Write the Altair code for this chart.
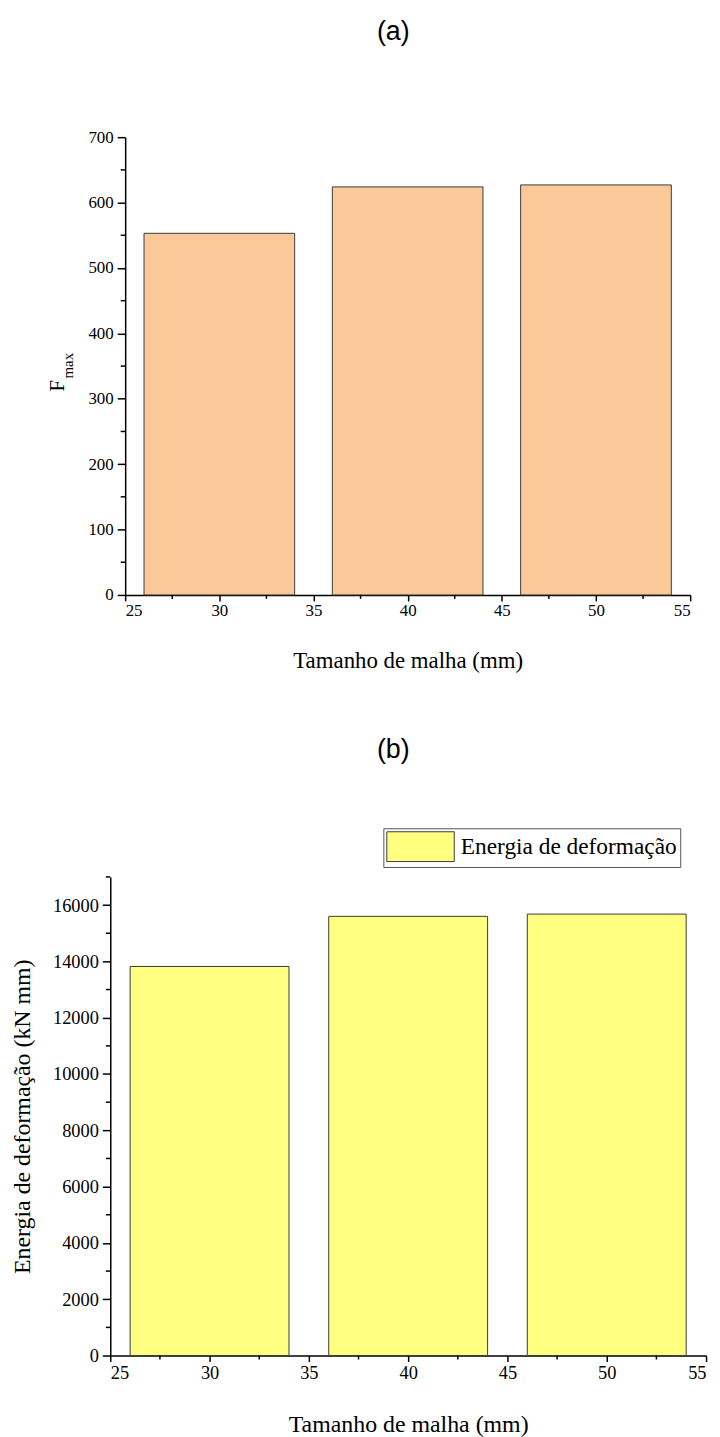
import altair as alt
import pandas as pd

# ---------------- data ----------------
mesh_mm = [30, 40, 50]
fmax_values = [553, 624, 627]
energy_values = [13820, 15600, 15680]
bar_width_mm = [8, 8, 8]
series_name = ["Energia de deformação", "Energia de deformação", "Energia de deformação"]

x_major = [25, 30, 35, 40, 45, 50, 55]
x_minor = [27.5, 32.5, 37.5, 42.5, 47.5, 52.5]
fmax_major = [0, 100, 200, 300, 400, 500, 600, 700]
fmax_minor = [50, 150, 250, 350, 450, 550, 650]
energy_major = [0, 2000, 4000, 6000, 8000, 10000, 12000, 14000, 16000]
energy_minor = [1000, 3000, 5000, 7000, 9000, 11000, 13000, 15000, 17000]

x_title = "Tamanho de malha (mm)"
y_title_b = "Energia de deformação (kN mm)"
title_a = "(a)"
title_b = "(b)"
fmax_main = ["F"]
fmax_sub = ["max"]

SERIF = "Liberation Serif"
SANS = "Liberation Sans"

df1 = pd.DataFrame({"mesh": mesh_mm, "w": bar_width_mm, "fmax": fmax_values})
df2 = pd.DataFrame({"mesh": mesh_mm, "w": bar_width_mm, "energy": energy_values, "series": series_name})

# ---------------- chart (a) ----------------
SHIFT = 15
W1, H1 = 569 + SHIFT, 461
xs1 = alt.Scale(domain=[25, 55], range=[SHIFT, W1], nice=False, zero=False)
ys1 = alt.Scale(domain=[0, 700], nice=False)
ax_x1 = alt.Axis(values=x_major, title=x_title, titlePadding=31, format="d",
                 labelFontSize=17, titleFontSize=23, tickSize=6, labelPadding=2)
ax_y1 = alt.Axis(values=fmax_major, title=None, offset=-SHIFT, format="d", labelFontSize=17,
                 tickSize=8, labelPadding=4)

bars1 = alt.Chart(df1).transform_calculate(
    x0="datum.mesh - datum.w / 2", x1="datum.mesh + datum.w / 2"
).mark_bar(color="#FBC897", stroke="#3a3a3a", strokeWidth=1).encode(
    x=alt.X("x0:Q", scale=xs1, axis=ax_x1),
    x2="x1:Q",
    y=alt.Y("fmax:Q", scale=ys1, axis=ax_y1),
    y2=alt.datum(0),
)

minor_x1 = alt.Chart(pd.DataFrame({"v": x_minor})).mark_rule(color="black", strokeWidth=1.5).encode(
    x=alt.X("v:Q", scale=xs1, axis=ax_x1), y=alt.value(H1), y2=alt.value(H1 + 4)
)
minor_y1 = alt.Chart(pd.DataFrame({"v": fmax_minor})).mark_rule(color="black", strokeWidth=1.5).encode(
    y=alt.Y("v:Q", scale=ys1, axis=ax_y1), x=alt.value(SHIFT - 4.5), x2=alt.value(SHIFT)
)

f_text = alt.Chart(pd.DataFrame({"t": fmax_main})).mark_text(
    font=SERIF, fontSize=21, angle=270, align="left", baseline="alphabetic", color="black"
).encode(text="t:N", x=alt.value(-47), y=alt.value(256))
sub_text = alt.Chart(pd.DataFrame({"t": fmax_sub})).mark_text(
    font=SERIF, fontSize=15, angle=270, align="left", baseline="alphabetic", color="black"
).encode(text="t:N", x=alt.value(-38), y=alt.value(243))

chart_a = alt.layer(bars1, minor_x1, minor_y1, f_text, sub_text).properties(
    width=W1, height=H1,
    title=alt.TitleParams(title_a, font=SANS, fontSize=27, fontWeight="normal",
                          anchor="middle", frame="group", dx=-7, offset=83, color="black"),
)

# ---------------- chart (b) ----------------
W2, H2 = 600, 482
xs2 = alt.Scale(domain=[25, 55], nice=False, zero=False)
ys2 = alt.Scale(domain=[0, 17000], nice=False)
ax_x2 = alt.Axis(values=x_major, title=x_title, titlePadding=31, format="d",
                 labelFontSize=18.5, titleFontSize=24, tickSize=6, labelPadding=2)
ax_y2 = alt.Axis(values=energy_major, title=y_title_b, titlePadding=18, format="d",
                 labelFontSize=18.5, titleFontSize=24, tickSize=8, labelPadding=4)

bars2 = alt.Chart(df2).transform_calculate(
    x0="datum.mesh - datum.w / 2", x1="datum.mesh + datum.w / 2"
).mark_bar(stroke="#3a3a3a", strokeWidth=1, opacity=1).encode(
    x=alt.X("x0:Q", scale=xs2, axis=ax_x2),
    x2="x1:Q",
    y=alt.Y("energy:Q", scale=ys2, axis=ax_y2),
    y2=alt.datum(0),
    color=alt.Color(
        "series:N", scale=alt.Scale(range=["#FFFF80"]),
        legend=alt.Legend(
            orient="none", legendX=275, legendY=-49, title=None,
            symbolType="M-1,-1H3.53V1H-1Z", symbolSize=900,
            symbolStrokeColor="#3a3a3a", symbolStrokeWidth=1, symbolOpacity=1,
            labelFont=SERIF, labelFontSize=23.5, labelColor="black", labelOffset=44,
            labelLimit=400, strokeColor="#555", fillColor="white", padding=3,
        ),
    ),
)

minor_x2 = alt.Chart(pd.DataFrame({"v": x_minor})).mark_rule(color="black", strokeWidth=1.5).encode(
    x=alt.X("v:Q", scale=xs2, axis=ax_x2), y=alt.value(H2), y2=alt.value(H2 + 4)
)
minor_y2 = alt.Chart(pd.DataFrame({"v": energy_minor})).mark_rule(color="black", strokeWidth=1.5).encode(
    y=alt.Y("v:Q", scale=ys2, axis=ax_y2), x=alt.value(-4.5), x2=alt.value(0)
)

chart_b = alt.layer(bars2, minor_x2, minor_y2).properties(
    width=W2, height=H2,
    title=alt.TitleParams(title_b, font=SANS, fontSize=27, fontWeight="normal",
                          anchor="middle", frame="group", dx=-15, offset=64, color="black"),
)

chart = alt.vconcat(chart_a, chart_b, spacing=64).resolve_legend(color="independent").properties(
    padding={"left": 2, "top": 5, "right": 5, "bottom": 5}
).configure_view(
    stroke=None
).configure_axis(
    labelFont=SERIF, labelColor="black",
    titleFont=SERIF, titleFontWeight="normal", titleColor="black",
    domainColor="black", domainWidth=1.5, tickColor="black", tickWidth=1.5,
    grid=False,
)

chart.save("out.html", embed_options={"renderer": "svg", "actions": False})
